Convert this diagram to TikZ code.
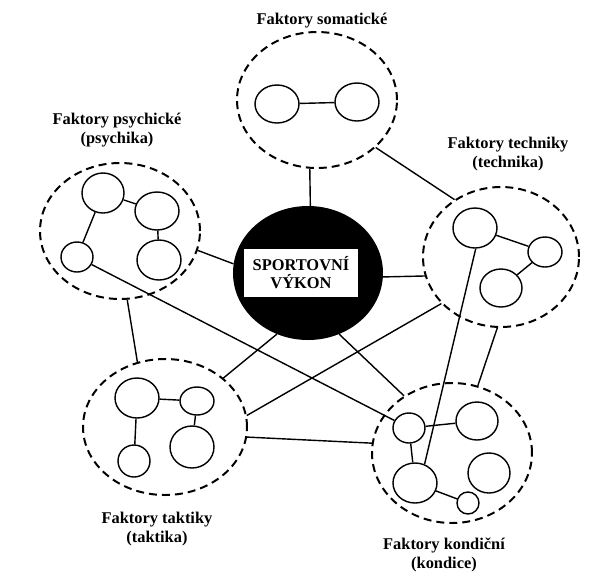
\documentclass[tikz,border=0pt]{standalone}
\usepackage{fontspec}
\setmainfont{Liberation Serif}
\usetikzlibrary{shapes.geometric}

\begin{document}
\begin{tikzpicture}[x=0.03cm,y=-0.03cm,
    zone/.style 2 args={ellipse,draw,line width=1.7pt,dash pattern=on 6.8pt off 4.3pt,
      inner sep=0pt,minimum width=#1*0.06cm,minimum height=#2*0.06cm},
    bub/.style 2 args={ellipse,draw,line width=1.2pt,inner sep=0pt,
      minimum width=#1*0.06cm,minimum height=#2*0.06cm},
    link/.style={line width=1.2pt},
    lab/.style={align=center,font=\fontsize{14}{15.5}\selectfont\bfseries}]
    \useasboundingbox (0,0) rectangle (607,574);

    % the black one in the middle
    \node[ellipse,fill=black,inner sep=0pt,minimum width=4.5cm,minimum height=4.02cm] (vykon) at (308,273) {};
    \node[fill=white,inner sep=0pt,minimum width=3.39cm,minimum height=1.44cm,lab] (vykontext) at (301,273) {SPORTOVNÍ\\VÝKON};

    % the five dashed groups
    \foreach \n/\x/\y/\rx/\ry in {soma/317/100/80/68,psy/120/231/80/68,tech/501/257/78/70,takt/165/427/82/68,kond/452/453/80/70}
      \node[zone={\rx}{\ry}] (\n) at (\x,\y) {};

    % small circles inside the groups
    \foreach \n/\x/\y/\rx/\ry in {
        soa/277/104/22/19, sob/357/102/22/19,
        psya/103/193/21/20, psyb/157/211/22/19, psyc/77/257/16/15, psyd/159/260/22/20,
        techa/475/228/22/20, techb/545/252/17/15, techc/501/288/21/19,
        taka/137/398/22/20, takb/197/401/17/14, takc/192/447/22/21, takd/134/461/16/16,
        konda/409/428/16/15, kondb/477/421/21/19, kondc/489/473/21/20, kondd/415/483/22/20, konde/468/503/11/11}
      \node[bub={\rx}{\ry}] (\n) at (\x,\y) {};

    % links inside the groups
    \foreach \a/\b in {soa/sob, psya/psyb, psya/psyc, psyb/psyd, techa/techb, techb/techc,
        taka/takb, takb/takc, taka/takd, konda/kondb, konda/kondd, kondd/konde}
      \draw[link] (\a) -- (\b);

    % links between the groups
    \foreach \a/\b in {vykon.88/soma.-96, vykon.173/psy.-14, vykon.-3/tech.-166,
        vykon.-117/takt.40, vykon.-63/kond.130, soma.-39/tech.129, psy.-84/takt.113,
        takt.8/tech.-142, takt.-7/kond.173, tech.-93/kond.69}
      \draw[link] (\a) -- (\b);
    \draw[link] (psyc) -- (konda);
    \draw[link] (techa.-88) -- (kondd.63);

    % names of the groups
    \node[lab] (lsoma) at (322,21) {Faktory somatické};
    \node[lab] (lpsy) at (117,130) {Faktory psychické\\(psychika)};
    \node[lab] (ltech) at (508,154) {Faktory techniky\\(technika)};
    \node[lab] (ltakt) at (157,529) {Faktory taktiky\\(taktika)};
    \node[lab] (lkond) at (444,555) {Faktory kondiční\\(kondice)};
\end{tikzpicture}
\end{document}
